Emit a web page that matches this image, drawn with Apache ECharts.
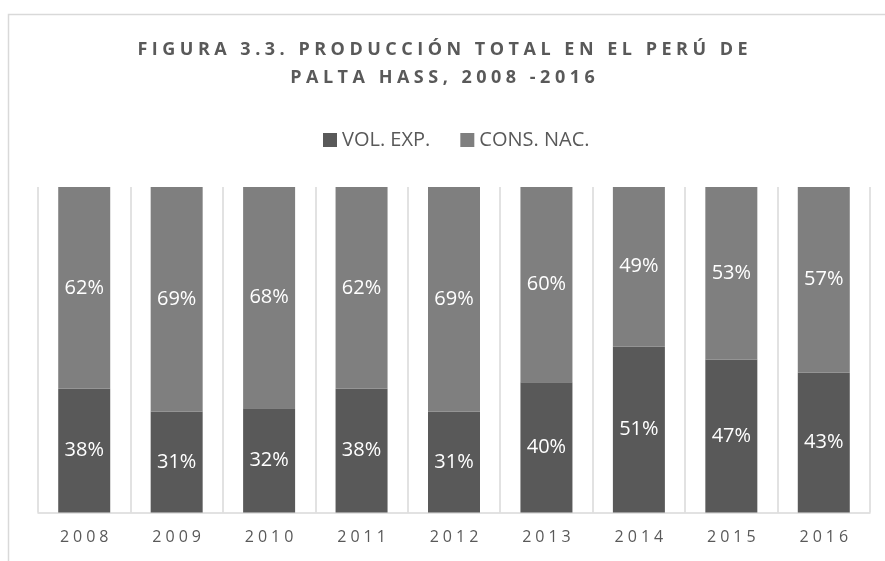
<!DOCTYPE html>
<html>
<head>
<meta charset="utf-8">
<script src="https://cdn.jsdelivr.net/npm/echarts@6/dist/echarts.min.js"></script>
<style>
  html, body { margin: 0; padding: 0; background: #fff; }
  #chart { width: 885px; height: 561px; }
</style>
</head>
<body>
<div id="chart"></div>
<script>
// datos (porcentajes)
const years = ['2008', '2009', '2010', '2011', '2012', '2013', '2014', '2015', '2016'];
const volExp = [38, 31, 32, 38, 31, 40, 51, 47, 43];
const consNac = [62, 69, 68, 62, 69, 60, 49, 53, 57];
const seriesNames = ['VOL. EXP.', 'CONS. NAC.'];
const titleLines = ['FIGURA 3.3. PRODUCCIÓN TOTAL EN EL PERÚ DE', 'PALTA HASS, 2008 -2016'];

// espaciado entre letras (zrender no tiene letterSpacing)
const spaced = (s, sp) => s.split('').join(sp);

const chart = echarts.init(document.getElementById('chart'));

const labelStyle = {
  show: true,
  position: 'inside',
  color: '#ffffff',
  fontFamily: 'Open Sans',
  fontSize: 20,
  formatter: p => p.value + '%'
};

chart.setOption({
  backgroundColor: '#ffffff',
  animation: false,
  textStyle: { fontFamily: 'Open Sans' },
  title: {
    text: titleLines.map(s => spaced(s, '\u2005')).join('\n'),
    left: 'center',
    top: 36,
    padding: [0, 0, 0, 29],
    textStyle: {
      color: '#595959',
      fontFamily: 'Open Sans',
      fontWeight: 'bold',
      fontSize: 18,
      lineHeight: 28
    }
  },
  legend: {
    data: seriesNames,
    top: 125,
    left: 318,
    itemWidth: 14,
    itemHeight: 14,
    itemGap: 30,
    icon: 'rect',
    textStyle: { color: '#595959', fontSize: 20, fontFamily: 'Open Sans' }
  },
  grid: { left: 38, right: 15, top: 187, bottom: 48.5 },
  xAxis: {
    type: 'category',
    data: years,
    axisLine: { lineStyle: { color: '#d9d9d9', width: 1.5 } },
    axisTick: { show: false },
    splitLine: { show: true, lineStyle: { color: '#d9d9d9', width: 1.5 } },
    axisLabel: {
      color: '#595959',
      fontSize: 16,
      margin: 17,
      formatter: v => spaced(v, '\u2005')
    }
  },
  yAxis: {
    type: 'value',
    min: 0,
    max: 100,
    show: false,
    splitLine: { show: false }
  },
  graphic: [{
    type: 'rect',
    shape: { x: 8.5, y: 14.5, width: 900, height: 600 },
    style: { fill: 'none', stroke: '#d9d9d9', lineWidth: 1.5 },
    silent: true,
    z: -10
  }],
  series: [
    {
      name: seriesNames[0],
      type: 'bar',
      stack: 'total',
      data: volExp,
      barWidth: 52,
      itemStyle: { color: '#595959' },
      label: labelStyle
    },
    {
      name: seriesNames[1],
      type: 'bar',
      stack: 'total',
      data: consNac,
      barWidth: 52,
      itemStyle: { color: '#7f7f7f' },
      label: labelStyle
    }
  ]
});
</script>
</body>
</html>
